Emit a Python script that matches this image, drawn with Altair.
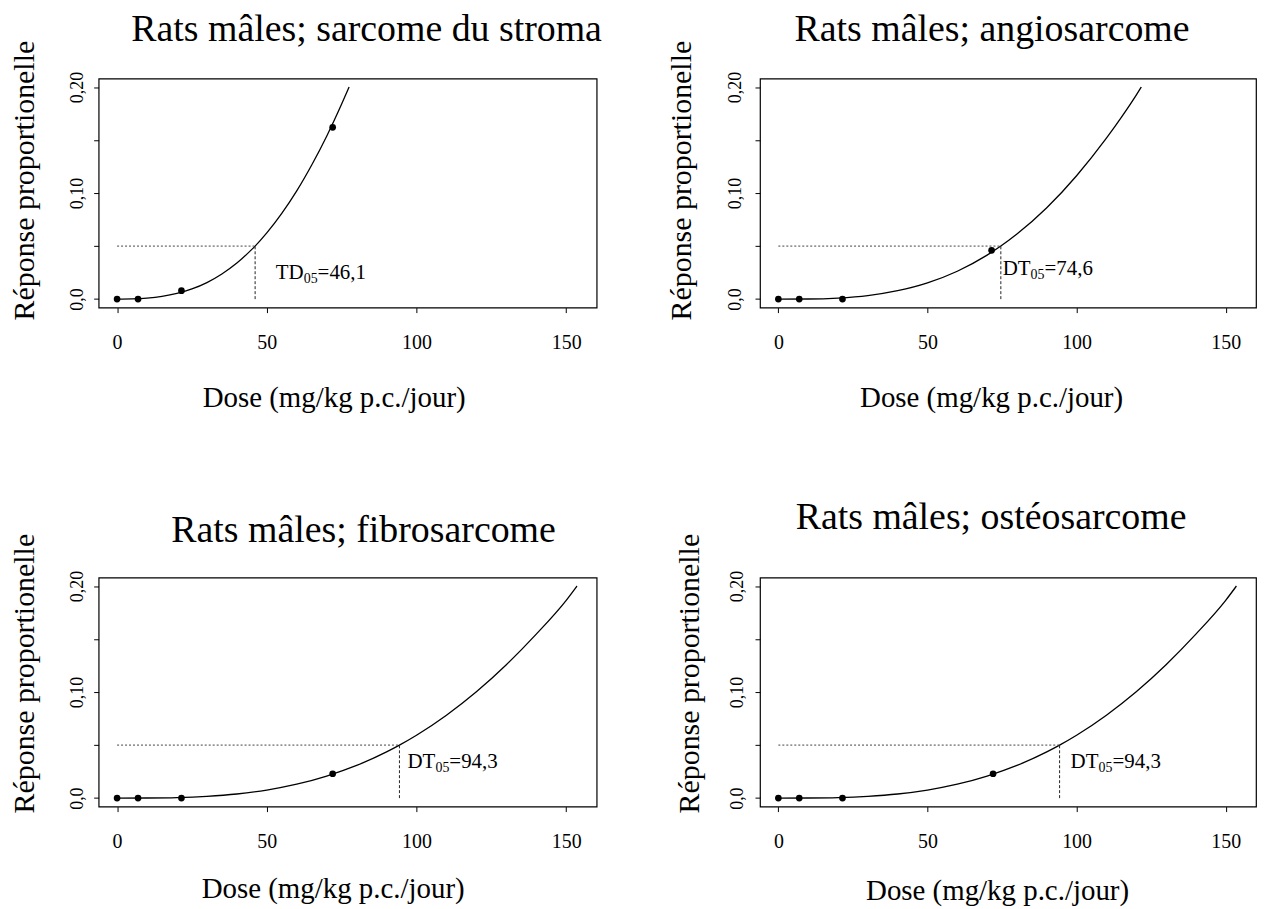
import altair as alt
import pandas as pd

FONT = "Liberation Serif"

# ---------------- data ----------------
panel_titles = [
    "Rats mâles; sarcome du stroma",
    "Rats mâles; angiosarcome",
    "Rats mâles; fibrosarcome",
    "Rats mâles; ostéosarcome",
]

# observed dose groups (mg/kg p.c./jour) and proportional responses
obs_dose_1 = [0, 7, 21.5, 72]
obs_resp_1 = [0.0, 0.0, 0.008, 0.162]
obs_dose_2 = [0, 7, 21.5, 71.5]
obs_resp_2 = [0.0, 0.0, 0.0, 0.046]
obs_dose_3 = [0, 7, 21.5, 72]
obs_resp_3 = [0.0, 0.0, 0.0, 0.023]
obs_dose_4 = [0, 7, 21.5, 72]
obs_resp_4 = [0.0, 0.0, 0.0, 0.023]

# fitted curves
curve_dose_1 = [0, 5, 10, 15, 20, 25, 30, 35, 40, 45, 46.1, 50, 55, 60, 65, 70, 75, 77.5]
curve_resp_1 = [0.0, 0.0002, 0.0009, 0.0025, 0.0053, 0.0096, 0.0156, 0.0237, 0.034,
                0.0469, 0.05, 0.0624, 0.0808, 0.102, 0.1264, 0.1536, 0.1839, 0.2]
curve_dose_2 = [0, 10, 20, 30, 40, 50, 60, 70, 74.6, 80, 90, 100, 110, 115, 120, 121.7]
curve_resp_2 = [0.0, 0.0001, 0.001, 0.0033, 0.0079, 0.0153, 0.0263, 0.0415, 0.05,
                0.0613, 0.0861, 0.1163, 0.1517, 0.1713, 0.1923, 0.2]
curve_dose_3 = [0, 10, 20, 30, 40, 50, 60, 70, 80, 90, 94.3, 100, 110, 120, 130, 140, 150, 153.6]
curve_resp_3 = [0.0, 0.0001, 0.0005, 0.0017, 0.0039, 0.0076, 0.0131, 0.0208, 0.0308,
                0.0436, 0.05, 0.0593, 0.0782, 0.1003, 0.1258, 0.1546, 0.1865, 0.2]
curve_dose_4 = curve_dose_3
curve_resp_4 = curve_resp_3

bmd_dose = [46.1, 74.6, 94.3, 94.3]
bmd_resp = [0.05, 0.05, 0.05, 0.05]
label_main = ["TD", "DT", "DT", "DT"]
label_sub = ["05", "05", "05", "05"]
label_value = ["=46,1", "=74,6", "=94,3", "=94,3"]
label_at_dose = [53.0, 75.2, 97.0, 98.0]
label_at_resp = [0.025, 0.028, 0.034, 0.034]

x_ticks = [0, 50, 100, 150]
y_ticks = [0, 0.05, 0.10, 0.15, 0.20]

obs_dose = [obs_dose_1, obs_dose_2, obs_dose_3, obs_dose_4]
obs_resp = [obs_resp_1, obs_resp_2, obs_resp_3, obs_resp_4]
curve_dose = [curve_dose_1, curve_dose_2, curve_dose_3, curve_dose_4]
curve_resp = [curve_resp_1, curve_resp_2, curve_resp_3, curve_resp_4]

# ---------------- layout / style ----------------
widths = [500, 498, 500, 498]
title_dx = [19, -16, 16, -17]
title_off = [-28, -28, -36, -23]
ytitle_x = [-74, -79, -74, -71]
ytitle_y = [102, 102, 96, 96]
xtitle_x = [236, 232, 235, 238]
xtitle_y = [90, 90, 82, 84]
ylab_pad = [7, 11, 7, 9]


def panel(i):
    xs = alt.Scale(domain=[-6.16, 160.16], nice=False, zero=False)
    ys = alt.Scale(domain=[-0.008, 0.208], nice=False, zero=False)
    xaxis = alt.Axis(
        values=x_ticks, title="Dose (mg/kg p.c./jour)", grid=False, domain=False,
        tickSize=5, tickColor="black", tickWidth=1,
        labelFont=FONT, labelFontSize=20, labelColor="black", labelPadding=20,
        titleFont=FONT, titleFontSize=29, titleFontWeight="normal", titleColor="black",
        titleX=xtitle_x[i], titleY=xtitle_y[i], titleAlign="center", titleBaseline="middle",
    )
    yaxis = alt.Axis(
        values=y_ticks, title="Réponse proportionelle", grid=False, domain=False,
        tickSize=5, tickColor="black", tickWidth=1,
        labelExpr="datum.value < 0.001 ? '0,0' : (abs(datum.value - 0.1) < 0.001 ? '0,10' : (abs(datum.value - 0.2) < 0.001 ? '0,20' : ''))",
        labelAngle=270, labelAlign="center", labelBaseline="bottom",
        labelFont=FONT, labelFontSize=18, labelColor="black", labelPadding=ylab_pad[i],
        titleFont=FONT, titleFontSize=30, titleFontWeight="normal", titleColor="black",
        titleAngle=270, titleX=ytitle_x[i], titleY=ytitle_y[i],
        titleAlign="center", titleBaseline="middle",
    )
    X = lambda f: alt.X(f, type="quantitative", scale=xs, axis=xaxis)
    Y = lambda f: alt.Y(f, type="quantitative", scale=ys, axis=yaxis)

    cdf = pd.DataFrame({"dose": curve_dose[i], "resp": curve_resp[i]})
    odf = pd.DataFrame({"dose": obs_dose[i], "resp": obs_resp[i]})
    hdf = pd.DataFrame({"dose": [0.0], "dose2": [bmd_dose[i]], "resp": [bmd_resp[i]]})
    vdf = pd.DataFrame({"dose": [bmd_dose[i]], "resp": [0.0], "resp2": [bmd_resp[i]]})
    tdf = pd.DataFrame({"dose": [label_at_dose[i]], "resp": [label_at_resp[i]]})

    curve = alt.Chart(cdf).mark_line(color="black", strokeWidth=1.3, interpolate="monotone").encode(
        x=X("dose"), y=Y("resp"))
    pts = alt.Chart(odf).mark_circle(color="black", size=45, opacity=1).encode(
        x=X("dose"), y=Y("resp"))
    hline = alt.Chart(hdf).mark_rule(color="#444444", strokeWidth=1, strokeDash=[2, 2]).encode(
        x=X("dose"), x2="dose2:Q", y=Y("resp"))
    vline = alt.Chart(vdf).mark_rule(color="#222222", strokeWidth=1, strokeDash=[3, 2]).encode(
        x=X("dose"), y=Y("resp"), y2="resp2:Q")
    t_main = alt.Chart(tdf).mark_text(font=FONT, fontSize=21, align="left", baseline="middle",
                                      color="black").encode(
        x=X("dose"), y=Y("resp"), text=alt.value(label_main[i]))
    t_sub = alt.Chart(tdf).mark_text(font=FONT, fontSize=14, align="left", baseline="middle",
                                     color="black", dx=28, dy=6).encode(
        x=X("dose"), y=Y("resp"), text=alt.value(label_sub[i]))
    t_val = alt.Chart(tdf).mark_text(font=FONT, fontSize=21, align="left", baseline="middle",
                                     color="black", dx=42).encode(
        x=X("dose"), y=Y("resp"), text=alt.value(label_value[i]))

    return alt.layer(curve, pts, hline, vline, t_main, t_sub, t_val).properties(
        width=widths[i], height=230,
        title=alt.TitleParams(
            text=panel_titles[i], font=FONT, fontSize=38, fontWeight="normal", color="black",
            anchor="middle", frame="group", dx=title_dx[i], offset=title_off[i], baseline="middle",
        ),
    )


chart = alt.concat(
    panel(0), panel(1), panel(2), panel(3),
    columns=2, spacing={"row": 271, "column": 164}, bounds="flush",
).properties(
    padding={"top": 1, "left": 1, "right": 0, "bottom": 0}
).configure(
    font=FONT, view=alt.ViewConfig(stroke="black", strokeWidth=1.2)
)

chart.save("out.html", embed_options={"renderer": "svg", "actions": False})
